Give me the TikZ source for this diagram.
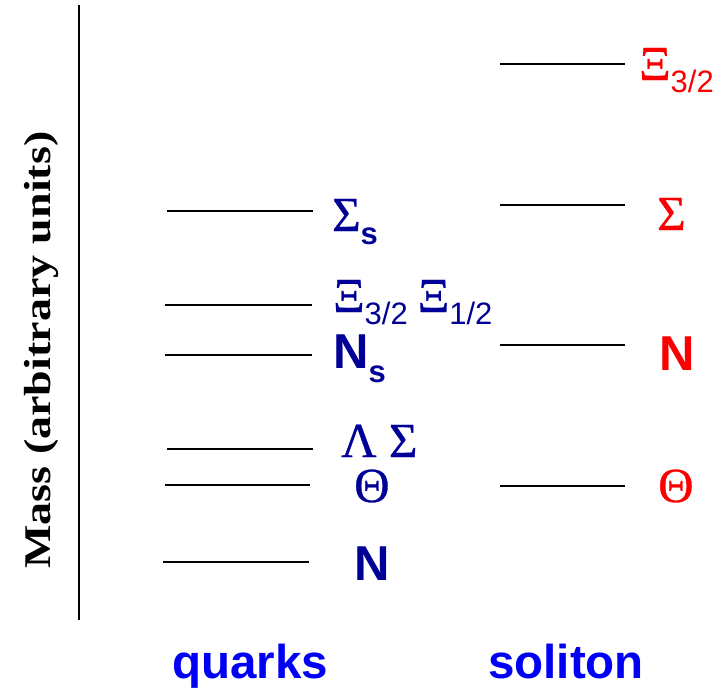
\documentclass[tikz,border=0pt]{standalone}
\usepackage{fontspec}
\setmainfont{Liberation Serif}
\setsansfont{Liberation Sans}
\newfontfamily\greekfont{Liberation Serif}[BoldFont={Liberation Serif}, BoldFeatures={FakeBold=0.6}]
\usepackage{xcolor}
\usepackage{tikz}
\usetikzlibrary{positioning}
\definecolor{quarkblue}{RGB}{0, 0, 150}
\definecolor{titleblue}{RGB}{0, 0, 245}
\definecolor{solred}{RGB}{250, 0, 0}
% letter with a lowered subscript
\newcommand{\lowsub}[3][-12pt]{#2\raisebox{#1}{\fontsize{31}{33}\selectfont\mdseries #3}}
\newcommand{\bigfont}{\fontsize{49}{52}\selectfont}

\begin{document}
\begin{tikzpicture}[x=1pt, y=-1pt,
  level/.style={line width=1.4pt},
  qlab/.style={text=quarkblue, inner sep=0pt, anchor=base west, font=\bigfont\greekfont\bfseries},
  slab/.style={text=solred, inner sep=0pt, anchor=base west, font=\bigfont\greekfont\bfseries},
  title/.style={text=titleblue, inner sep=0pt, anchor=base, font=\fontsize{47.5}{50}\selectfont\sffamily\bfseries}]
  \useasboundingbox (0,0) rectangle (727,689);
  % axis
  \draw[line width=1.8pt] (79,5) -- (79,620);
  \node[rotate=90, inner sep=0pt] (mass) at (41,350)
    {\scalebox{1}[0.82]{\fontsize{46}{50}\selectfont\bfseries Mass (arbitrary units)}};
  % quark levels
  \draw[level] (167,211) -- (313,211);
  \draw[level] (165,305) -- (312,305);
  \draw[level] (165,355) -- (312,355);
  \draw[level] (167,449) -- (313,449);
  \draw[level] (165,485) -- (310,485);
  \draw[level] (163,562) -- (309,562);
  % soliton levels
  \draw[level] (500,64) -- (625,64);
  \draw[level] (500,205) -- (625,205);
  \draw[level] (500,345) -- (625,345);
  \draw[level] (500,486) -- (625,486);
  % quark labels
  \node[qlab] (sigs) at (332,231) {\lowsub[-13pt]{Σ}{\sffamily\bfseries s}};
  \node[qlab] (xis) at (333,312) {\lowsub{Ξ}{\sffamily 3/2}\hspace{10pt}\lowsub{Ξ}{\sffamily 1/2}};
  \node[qlab] (ns) at (333,368) {\lowsub[-14pt]{\sffamily\bfseries N}{\sffamily\bfseries s}};
  \node[qlab] (lamsig) at (341,457) {Λ Σ};
  \node[qlab] (thq) at (354,502) {Θ};
  \node[qlab] (nq) at (354,580) {\sffamily\bfseries N};
  % soliton labels
  \node[slab] (xisol) at (639,80) {\lowsub{Ξ}{\sffamily 3/2}};
  \node[slab] (sigsol) at (657,230) {Σ};
  \node[slab] (nsol) at (659,370) {\sffamily\bfseries N};
  \node[slab] (thsol) at (658,502) {Θ};
  % column titles
  \node[title] (quarks) at (250,678) {quarks};
  \node[title] (soliton) at (566,678) {soliton};
\end{tikzpicture}
\end{document}
